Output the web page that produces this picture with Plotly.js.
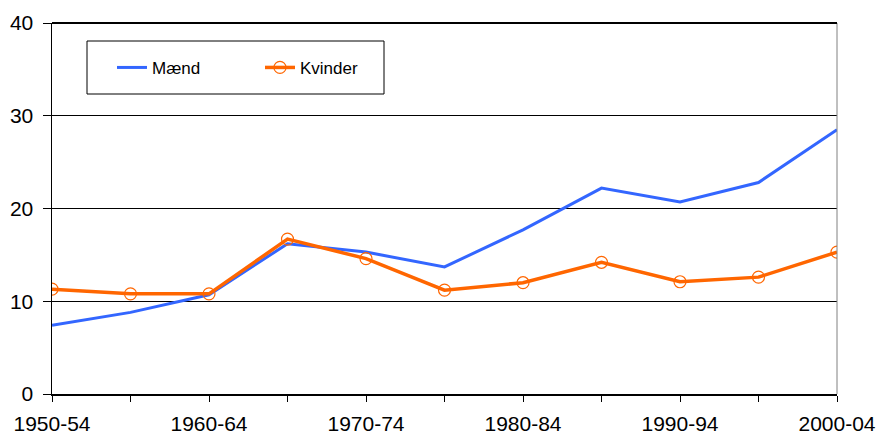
<!DOCTYPE html>
<html>
<head>
<meta charset="utf-8">
<script src="https://cdn.plot.ly/plotly-3.0.1.min.js"></script>
<style>html,body{margin:0;padding:0;background:#fff;}#chart{width:877px;height:434px;}</style>
</head>
<body>
<div id="chart"></div>
<script>
const periods = ["1950-54","1955-59","1960-64","1965-69","1970-74","1975-79","1980-84","1985-89","1990-94","1995-99","2000-04"];
const tickLabels = ["1950-54","","1960-64","","1970-74","","1980-84","","1990-94","","2000-04"];
const maend = [7.4, 8.8, 10.7, 16.2, 15.3, 13.7, 17.7, 22.2, 20.7, 22.8, 28.5];
const kvinder = [11.3, 10.8, 10.8, 16.7, 14.6, 11.2, 12.0, 14.2, 12.1, 12.6, 15.3];

const traces = [
  {x: periods, y: maend, name: "Mænd", type: "scatter", mode: "lines",
   line: {color: "#3366FF", width: 3}},
  {x: periods, y: kvinder, name: "Kvinder", type: "scatter", mode: "lines+markers",
   line: {color: "#FF6600", width: 3.5},
   marker: {symbol: "circle-open", size: 12, color: "#FF6600", line: {width: 1.2, color: "#FF6600"}}}
];

const layout = {
  width: 877, height: 434,
  margin: {l: 52, r: 40, t: 23, b: 40, pad: 0},
  paper_bgcolor: "#fff", plot_bgcolor: "#fff",
  font: {family: "Liberation Sans, Arial, sans-serif", color: "#000", size: 21},
  showlegend: true,
  legend: {orientation: "h", x: 0.0764, y: 0.879, xanchor: "left", yanchor: "middle",
           bgcolor: "rgba(0,0,0,0)", borderwidth: 0, font: {size: 17},
           entrywidth: 103, entrywidthmode: "pixels"},
  xaxis: {type: "category", range: [0, 10], tickmode: "array", tickvals: periods, ticktext: tickLabels,
          ticks: "outside", ticklen: 6, tickcolor: "#000", tickwidth: 1, ticklabelstandoff: 4,
          showline: true, linecolor: "#000", linewidth: 1.5, mirror: false,
          showgrid: false, zeroline: false, tickfont: {size: 21}, fixedrange: true},
  yaxis: {range: [0, 40], dtick: 10, tick0: 0, ticks: "outside", ticklen: 8, tickcolor: "#000",
          ticklabelstandoff: 5,
          showline: true, linecolor: "#000", linewidth: 1.5,
          showgrid: true, gridcolor: "#000", gridwidth: 1, zeroline: false,
          tickfont: {size: 21}, fixedrange: true},
  shapes: [
    {type: "rect", xref: "paper", yref: "paper", x0: (87-52)/785, x1: (384-52)/785, y0: (394-94)/371, y1: (394-41)/371,
     line: {color: "#000", width: 1}, fillcolor: "rgba(0,0,0,0)"},
    {type: "line", xref: "paper", yref: "paper", x0: 1, x1: 1, y0: 0, y1: 1, line: {color: "#808080", width: 1}},
    {type: "line", xref: "paper", yref: "paper", x0: 0, x1: 1, y0: 1, y1: 1, line: {color: "#000", width: 2}}
  ]
};

Plotly.newPlot("chart", traces, layout, {displayModeBar: false, staticPlot: true});
</script>
</body>
</html>
